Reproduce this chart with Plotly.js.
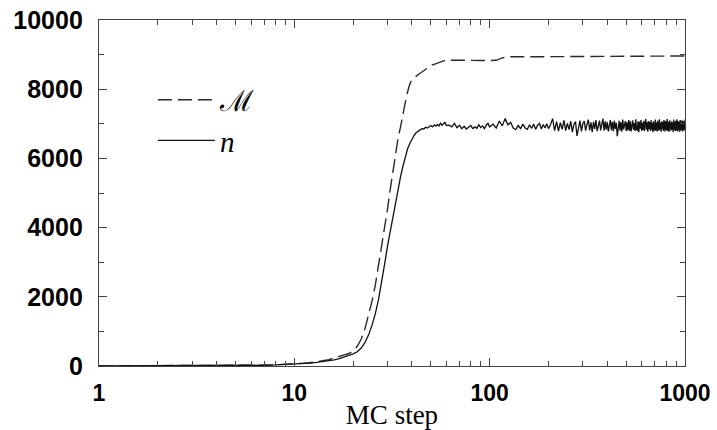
<!DOCTYPE html>
<html>
<head>
<meta charset="utf-8">
<script src="https://cdn.plot.ly/plotly-3.0.1.min.js"></script>
<style>html,body{margin:0;padding:0;background:#fff;}#chart{width:717px;height:430px;}</style>
</head>
<body>
<div id="chart"></div>
<script>
// MC steps for the M curve
const stepsM = [1,2,3,4,5,6,7,8,9,10,11,12,13,14,15,16,17,18,19,20,
  21,22,23,24,25,26,27,28,29,30,31,32,33,34,35,36,37,38,39,40,
  41,42,43,44,45,46,47,48,49,50,52,54,56,58,60,70,80,90,100,108,115,125,200,500,900,1000];
const valuesM = [2,4,7,10,14,19,26,35,46,60,76,96,120,150,185,225,270,320,360,430,
  570,780,1080,1460,1880,2350,2900,3430,4000,4540,5120,5670,6160,6600,6920,7320,7620,7920,8150,8270,
  8330,8380,8420,8460,8500,8520,8560,8610,8660,8690,8720,8760,8790,8820,8840,8830,8830,8830,8830,8835,8900,8940,8940,8940,8945,8960];

// MC steps for the n curve
const stepsN = [1,2,3,4,5,6,7,8,9,10,11,12,13,14,15,16,17,18,19,20,
  21,22,23,24,25,26,27,28,29,30,31,32,33,34,35,36,37,38,39,40,
  41,42,43,44,45,46,47,48,49,50,51,52,53,54,55,56,57,58,59,60,
  62,64,66,68,70,72,74,76,78,80,82,84,86,88,90,92,94,96,98,100,
  104,108,112,116,120,124,128,132,136,140,144,148,152,156,160,164,168,172,176,180,184,188,192,196,200,
  205,210,215,220,225,230,235,240,245,250,
  255,260,265,270,275,280,285,290,295,300,
  305,310,315,320,325,330,335,340,345,350,
  355,360,365,370,375,380,385,390,395,400,
  405,410,415,420,425,430,435,440,445,450,
  455,460,465,470,475,480,485,490,495,500,
  505,510,515,520,525,530,535,540,545,550,
  555,560,565,570,575,580,585,590,595,600,
  605,610,615,620,625,630,635,640,645,650,
  655,660,665,670,675,680,685,690,695,700,
  705,710,715,720,725,730,735,740,745,750,
  755,760,765,770,775,780,785,790,795,800,
  805,810,815,820,825,830,835,840,845,850,
  855,860,865,870,875,880,885,890,895,900,
  905,910,915,920,925,930,935,940,945,950,
  955,960,965,970,975,980,985,990,995,1000];
const valuesN = [2,4,6,9,12,16,22,30,42,55,70,85,105,125,150,180,215,255,300,350,
  410,520,680,900,1180,1520,1930,2420,2950,3470,3900,4360,4760,5170,5480,5780,6060,6280,6430,6560,
  6660,6740,6790,6830,6860,6850,6900,6880,6920,6950,6910,6970,6930,6980,6940,7020,6960,7000,7040,6950,
  6960,6910,7010,6890,6960,6860,6930,6850,6900,6950,6860,6910,6870,6970,6890,6940,6860,6960,7010,6910,
  6990,6880,7080,6940,7150,6970,7040,6880,6830,6950,6860,6990,6880,6840,6970,6870,6990,6840,6960,7010,6850,6980,6880,7000,6860,
  6980,7150,6800,7060,6790,7030,6840,7100,6800,7010,
  6830,7080,6760,6990,7060,6650,6880,7090,6780,7010,
  7080,6800,6990,7120,6810,7040,6760,7060,6850,7110,
  6790,7010,7090,6810,7020,7150,6800,7070,6830,7050,
  6780,7020,7110,6810,7060,6790,7090,6850,7030,6640,
  6840,7090,6800,7050,6770,7120,6840,7020,7080,6790,
  7040,6810,7110,6800,7070,6780,7030,7100,6830,7020,
  6790,7130,6850,6800,7070,6760,7060,6860,7110,6790,
  7030,6820,7090,6790,7020,7140,6830,7040,6770,7080,
  6850,7050,6790,7110,6830,7030,6760,7070,6860,6800,
  7120,6810,7040,6780,7090,6870,6800,7130,6830,7030,
  6770,7070,6850,7050,6790,7110,6840,6780,7080,7020,
  6810,7140,6860,6790,7060,6770,7100,6850,7030,6800,
  7070,6820,7040,6760,7120,6840,7050,6790,7090,6860,
  6800,7130,7020,6780,7070,6850,7060,6770,7110,6820,
  7040,6800,7100,6870,6780,7080,6840,7050,6810,7120];

const xTickVals = [1,10,100,1000];
const xTickText = ['1','10','100','1000'];
const yTickVals = [0,2000,4000,6000,8000,10000];
const yTickText = ['0','2000','4000','6000','8000','10000'];
const nameM = 'ℳ';
const nameN = '<i>n</i>';
const xTitle = 'MC step';

const traces = [
  {x: stepsM, y: valuesM, type: 'scatter', mode: 'lines', name: nameM,
   line: {color: '#2a2a2a', width: 1.4, dash: '14px,6px'}},
  {x: stepsN, y: valuesN, type: 'scatter', mode: 'lines', name: nameN,
   line: {color: '#111', width: 1.3}}
];

const tickFontY = {family: 'Liberation Sans, Arial, sans-serif', size: 25, color: '#000', weight: 'bold'};
const tickFontX = {family: 'Liberation Sans, Arial, sans-serif', size: 23, color: '#000', weight: 'bold'};

const layout = {
  width: 717, height: 430,
  margin: {l: 99, r: 32, t: 20, b: 64, pad: 0},
  paper_bgcolor: '#fff', plot_bgcolor: '#fff',
  showlegend: true,
  legend: {x: 0.092, y: 0.71, xanchor: 'left', yanchor: 'middle', bgcolor: 'rgba(0,0,0,0)',
    font: {family: 'Liberation Serif, DejaVu Serif, serif', size: 29, color: '#000'},
    itemwidth: 57, tracegroupgap: 0},
  xaxis: {
    type: 'log', range: [0, 3],
    tickvals: xTickVals, ticktext: xTickText,
    ticks: 'inside', ticklen: 8, tickwidth: 1, tickcolor: '#444',
    showline: true, linecolor: '#444', linewidth: 1.2, mirror: 'ticks',
    showgrid: false, zeroline: false,
    tickfont: tickFontX, ticklabelstandoff: 6,
    minor: {ticks: 'inside', ticklen: 5, tickcolor: '#444', dtick: 'D1', showgrid: false},
    title: {text: xTitle, font: {family: 'Liberation Serif, DejaVu Serif, serif', size: 27, color: '#000'}, standoff: 2}
  },
  yaxis: {
    range: [0, 10000],
    tickvals: yTickVals, ticktext: yTickText,
    ticks: 'inside', ticklen: 8, tickwidth: 1, tickcolor: '#444',
    showline: true, linecolor: '#444', linewidth: 1.2, mirror: 'ticks',
    showgrid: false, zeroline: false,
    tickfont: tickFontY, ticklabelstandoff: 10,
    minor: {ticks: 'inside', ticklen: 5, tickcolor: '#444', dtick: 1000, showgrid: false}
  }
};

Plotly.newPlot('chart', traces, layout, {staticPlot: true, displayModeBar: false});
</script>
</body>
</html>
